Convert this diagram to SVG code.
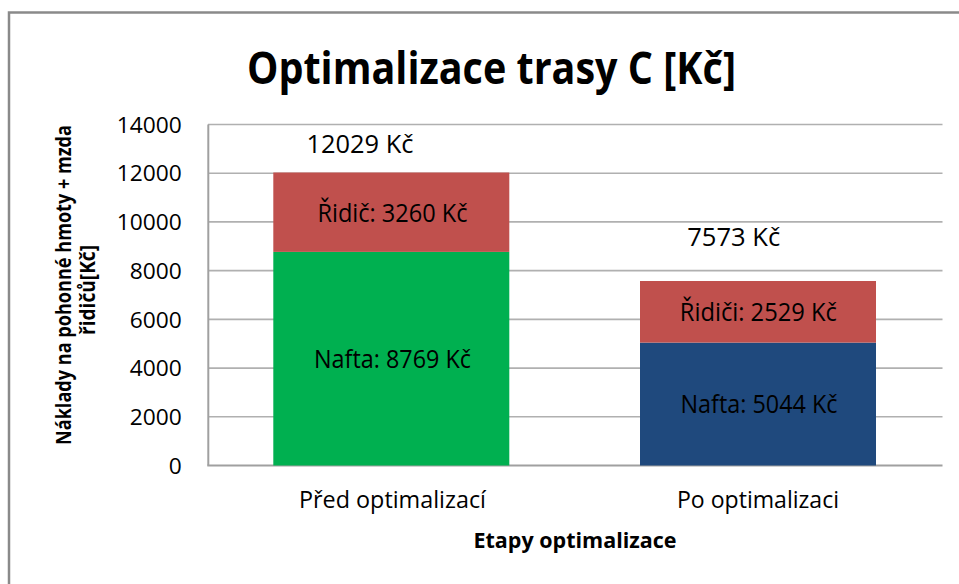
<svg xmlns="http://www.w3.org/2000/svg" width="959" height="584" viewBox="0 0 959 584">
<style>
text{font-family:"Open Sans","Liberation Sans",sans-serif;fill:#000}
.tick{font-size:22px;text-anchor:end}
.lbl{font-size:26px;text-anchor:middle}
.cat{font-size:24px;text-anchor:middle}
.grid{stroke:#b0b0b0;stroke-width:1.6}
.axis{stroke:#a0a0a0;stroke-width:2}
</style>
<rect x="0" y="0" width="959" height="584" fill="#fff"/>
<rect x="9" y="12.5" width="970" height="600" fill="none" stroke="#8a8a8a" stroke-width="2.5"/>
<g id="title"><text x="491.5" y="84" font-size="45" font-weight="bold" text-anchor="middle" textLength="489" lengthAdjust="spacingAndGlyphs">Optimalizace trasy C [Kč]</text></g>
<g id="grid">
<line class="grid" x1="208" y1="124.5" x2="942.5" y2="124.5"/>
<line class="grid" x1="208" y1="173.2" x2="942.5" y2="173.2"/>
<line class="grid" x1="208" y1="221.9" x2="942.5" y2="221.9"/>
<line class="grid" x1="208" y1="270.6" x2="942.5" y2="270.6"/>
<line class="grid" x1="208" y1="319.4" x2="942.5" y2="319.4"/>
<line class="grid" x1="208" y1="368.1" x2="942.5" y2="368.1"/>
<line class="grid" x1="208" y1="416.8" x2="942.5" y2="416.8"/>
<line class="axis" x1="208.3" y1="124.5" x2="208.3" y2="465.5"/>
<line class="axis" x1="207.3" y1="465.5" x2="942.5" y2="465.5"/>
</g>
<g id="yticks">
<text class="tick" x="181.7" y="132.7" textLength="65" lengthAdjust="spacingAndGlyphs">14000</text>
<text class="tick" x="181.7" y="181.4" textLength="65" lengthAdjust="spacingAndGlyphs">12000</text>
<text class="tick" x="181.7" y="230.1" textLength="65" lengthAdjust="spacingAndGlyphs">10000</text>
<text class="tick" x="181.7" y="278.8" textLength="52" lengthAdjust="spacingAndGlyphs">8000</text>
<text class="tick" x="181.7" y="327.6" textLength="52" lengthAdjust="spacingAndGlyphs">6000</text>
<text class="tick" x="181.7" y="376.3" textLength="52" lengthAdjust="spacingAndGlyphs">4000</text>
<text class="tick" x="181.7" y="425" textLength="52" lengthAdjust="spacingAndGlyphs">2000</text>
<text class="tick" x="181.7" y="473.7" textLength="13" lengthAdjust="spacingAndGlyphs">0</text>
</g>
<g id="bar-pred">
<rect x="273.3" y="251.9" width="236" height="213.6" fill="#00b050"/>
<rect x="273.3" y="172.5" width="236" height="79.4" fill="#c0504d"/>
<text class="lbl" x="392.5" y="221.5" textLength="150" lengthAdjust="spacingAndGlyphs">Řidič: 3260 Kč</text>
<text class="lbl" x="392.5" y="368" textLength="157" lengthAdjust="spacingAndGlyphs">Nafta: 8769 Kč</text>
<text class="lbl" x="360" y="153.3" textLength="107" lengthAdjust="spacingAndGlyphs">12029 Kč</text>
</g>
<g id="bar-po">
<rect x="640" y="342.6" width="236" height="122.9" fill="#1f497d"/>
<rect x="640" y="281" width="236" height="61.6" fill="#c0504d"/>
<text class="lbl" x="758.3" y="321" textLength="157" lengthAdjust="spacingAndGlyphs">Řidiči: 2529 Kč</text>
<text class="lbl" x="759" y="413.3" textLength="157" lengthAdjust="spacingAndGlyphs">Nafta: 5044 Kč</text>
<text class="lbl" x="733.7" y="246" textLength="93" lengthAdjust="spacingAndGlyphs">7573 Kč</text>
</g>
<g id="xaxis">
<text class="cat" x="392.5" y="508" textLength="187" lengthAdjust="spacingAndGlyphs">Před optimalizací</text>
<text class="cat" x="758" y="508" textLength="162" lengthAdjust="spacingAndGlyphs">Po optimalizaci</text>
<text x="575" y="548" font-size="21.5" font-weight="bold" text-anchor="middle" textLength="203" lengthAdjust="spacingAndGlyphs">Etapy optimalizace</text>
</g>
<g id="yaxis-title" font-size="21" font-weight="bold">
<text transform="translate(71,285) rotate(-90)" text-anchor="middle" textLength="320" lengthAdjust="spacingAndGlyphs">Náklady na pohonné hmoty + mzda</text>
<text transform="translate(95,290) rotate(-90)" text-anchor="middle" textLength="90" lengthAdjust="spacingAndGlyphs">řidičů[Kč]</text>
</g>
</svg>
